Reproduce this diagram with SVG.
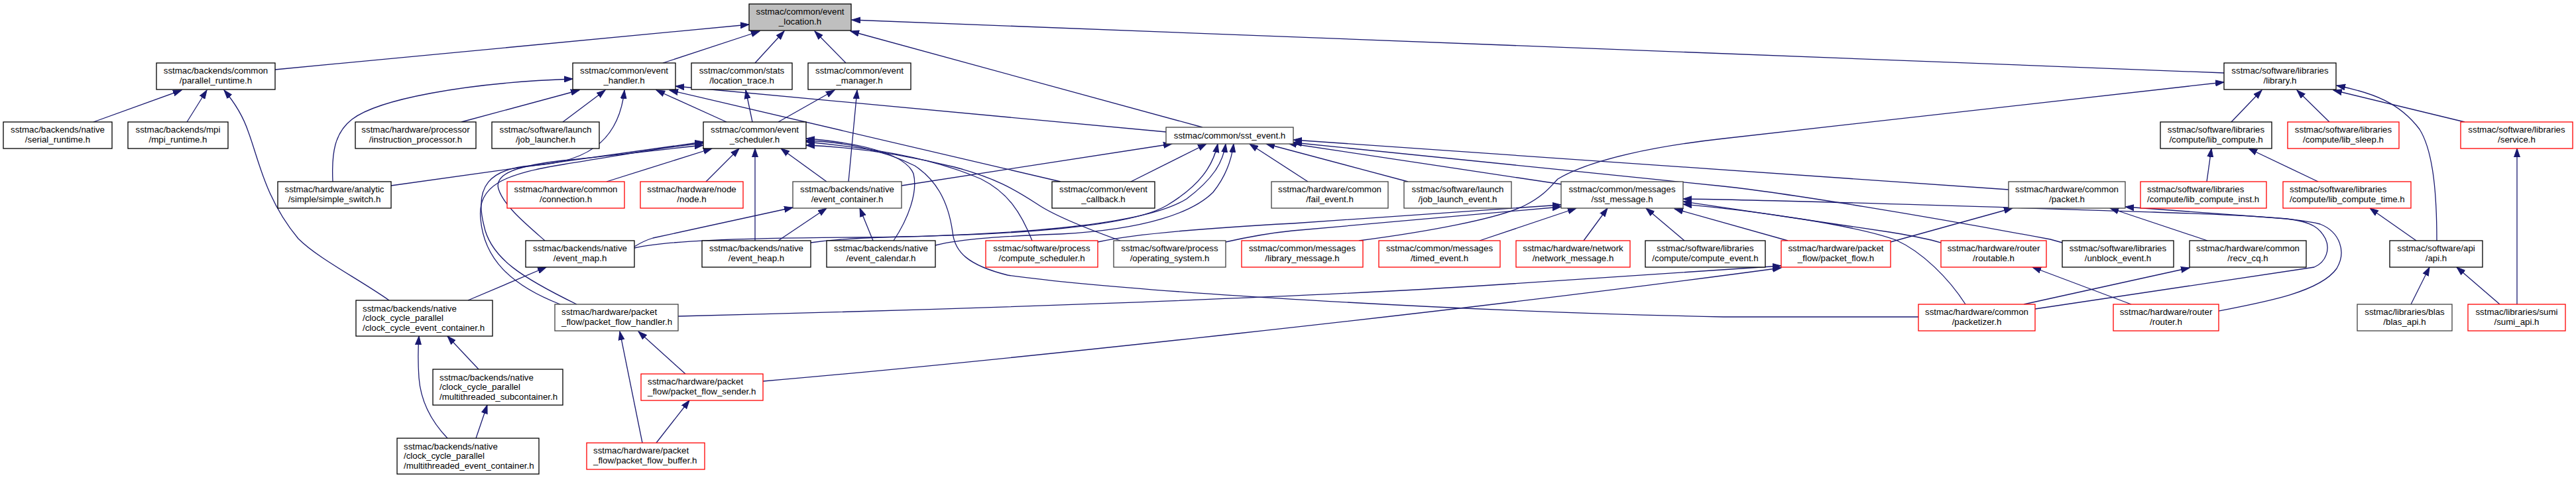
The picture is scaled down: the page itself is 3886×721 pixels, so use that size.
<svg xmlns="http://www.w3.org/2000/svg" width="3886" height="721" viewBox="0 0 3886 721">
<defs>
<marker id="a" markerWidth="14" markerHeight="10" refX="13" refY="5" orient="auto" markerUnits="userSpaceOnUse"><path d="M0,0.5 L13,5 L0,9.5 z" fill="#191970" stroke="#191970" stroke-width="1"/></marker>
</defs>
<style>
.n rect{fill:#fff;stroke:#000;stroke-width:1.3}
.n.r rect{stroke:#ff0000}
.n.g rect{stroke:#404040}
.n.s rect{fill:#bfbfbf}
text{font-family:"Liberation Sans",Arial,sans-serif;font-size:13.3px;fill:#000}
.n text{text-anchor:middle}
.n.l text{text-anchor:start}
#edges path{fill:none;stroke:#191970;stroke-width:1.3;marker-end:url(#a)}
</style>
<rect width="3886" height="721" fill="#fff"/>
<g id="edges">
<path d="M415,105 L1130,37"/>
<path d="M1000,95 L1146,47"/>
<path d="M1139,95 L1183,47"/>
<path d="M1276,95 L1229,47"/>
<path d="M1814,192 L1283,47"/>
<path d="M3355,110 L1285,30"/>
<path d="M141,184 L274,136"/>
<path d="M282,184 L312,136"/>
<path d="M587,453 C540,420 480,390 450,360 C400,300 390,240 375,200 C365,170 350,150 338,136"/>
<path d="M502,274 C500,230 505,200 531,180 C570,150 700,125 864,119"/>
<path d="M696,184 L874,136"/>
<path d="M849,184 L913,136"/>
<path d="M1096,184 L990,136"/>
<path d="M870,459 C790,420 740,390 730,340 C715,280 740,255 800,250 C900,245 935,200 942,136"/>
<path d="M1759,199 L1019,130"/>
<path d="M1600,274 L1010,136"/>
<path d="M1135,184 L1125,136"/>
<path d="M1174,184 L1259,136"/>
<path d="M1280,274 L1293,136"/>
<path d="M3366,184 L3412,136"/>
<path d="M3514,184 L3465,136"/>
<path d="M3718,184 L3520,136"/>
<path d="M3676,363 C3676,300 3672,230 3650,195 C3620,155 3580,140 3525,129"/>
<path d="M3329,274 L3336,224"/>
<path d="M3497,274 L3392,224"/>
<path d="M3645,363 L3575,314"/>
<path d="M3797,459 L3797,224"/>
<path d="M3771,459 L3706,403"/>
<path d="M3637,459 L3665,403"/>
<path d="M915,274 L1074,224"/>
<path d="M1065,274 L1115,224"/>
<path d="M1139,363 L1139,224"/>
<path d="M1247,274 L1178,224"/>
<path d="M590,280 L1061,214"/>
<path d="M822,363 C790,335 760,310 752,285 C745,262 780,250 850,242 C950,232 1010,224 1061,219"/>
<path d="M1348,363 C1370,330 1385,290 1378,262 C1365,230 1290,215 1216,209"/>
<path d="M1557,363 C1540,320 1520,290 1480,270 C1400,235 1300,222 1216,214"/>
<path d="M1690,363 C1640,345 1590,325 1565,308 C1530,285 1500,268 1440,252 C1360,232 1290,222 1216,219"/>
<path d="M2894,478 L2600,478 C2200,470 1700,440 1520,415 C1460,400 1440,380 1437,350 C1430,300 1410,270 1380,250 C1330,225 1270,214 1216,212"/>
<path d="M957,372 C965,367 975,362 985,359 L1196,313"/>
<path d="M1174,363 L1247,314"/>
<path d="M1317,363 L1297,314"/>
<path d="M1360,280 L1768,217"/>
<path d="M1706,274 L1820,217"/>
<path d="M957,374 C1000,364 1100,359 1300,358 C1500,356 1700,345 1760,310 C1810,280 1830,250 1837,217"/>
<path d="M1223,366 C1260,361 1290,359 1330,358 C1500,354 1720,344 1790,300 C1830,270 1845,245 1849,217"/>
<path d="M1411,370 C1450,360 1520,356 1600,353 C1730,346 1800,320 1830,290 C1850,265 1858,240 1861,217"/>
<path d="M1973,274 L1885,217"/>
<path d="M2124,274 L1910,217"/>
<path d="M2356,278 L1943,216"/>
<path d="M3030,286 L1951,211"/>
<path d="M3111,366 L3093,361 C2900,325 2700,292 2600,281 L1951,215"/>
<path d="M1656,365 C1700,355 1800,345 1950,337 L2355,309"/>
<path d="M1849,365 C1880,358 1910,352 1950,348 L2355,312"/>
<path d="M2050,363 C2150,350 2260,330 2300,310 C2330,295 2340,280 2350,270 C2400,240 2500,220 2600,209 L3355,124"/>
<path d="M2232,363 L2378,314"/>
<path d="M2389,363 L2425,314"/>
<path d="M2541,363 L2483,314"/>
<path d="M2697,363 L2526,315"/>
<path d="M2928,366 C2900,358 2880,355 2850,350 L2539,304"/>
<path d="M2965,459 C2940,420 2900,380 2860,362 C2800,340 2650,318 2539,308"/>
<path d="M2852,365 L3036,314"/>
<path d="M3330,363 L3183,314"/>
<path d="M3053,459 L3303,404"/>
<path d="M3215,459 L3066,403"/>
<path d="M3070,466 L3491,403 C3510,395 3515,375 3508,360 C3500,345 3490,335 3450,330 C3350,322 3250,316 3206,312"/>
<path d="M3347,469 C3420,455 3500,440 3525,405 C3540,380 3530,350 3500,338 C3450,325 3300,322 3250,320 C3000,312 2700,302 2539,300"/>
<path d="M1023,477 C1400,468 1950,450 2250,430 C2450,416 2600,408 2687,401"/>
<path d="M1151,575 C1500,545 2200,470 2687,404"/>
<path d="M1034,564 L963,500"/>
<path d="M969,668 L935,500"/>
<path d="M990,668 L1040,604"/>
<path d="M706,453 L824,403"/>
<path d="M722,557 L675,507"/>
<path d="M718,661 L735,611"/>
<path d="M675,661 C655,640 635,610 632,570 C630,540 631,520 632,507"/>
<path d="M845,459 C770,430 730,390 725,330 C720,280 760,262 850,248 C950,232 1000,222 1061,216"/>
</g>
<g id="node-event_location" class="n s"><rect x="1130" y="6" width="154" height="40"/><text x="1207" y="22">sstmac/common/event</text><text x="1207" y="36.5">_location.h</text></g>
<g id="node-parallel_runtime" class="n"><rect x="236" y="95" width="179" height="40"/><text x="325.5" y="111">sstmac/backends/common</text><text x="325.5" y="125.5">/parallel_runtime.h</text></g>
<g id="node-event_handler" class="n"><rect x="864" y="95" width="155" height="40"/><text x="941.5" y="111">sstmac/common/event</text><text x="941.5" y="125.5">_handler.h</text></g>
<g id="node-location_trace" class="n"><rect x="1043" y="95" width="152" height="40"/><text x="1119" y="111">sstmac/common/stats</text><text x="1119" y="125.5">/location_trace.h</text></g>
<g id="node-event_manager" class="n"><rect x="1219" y="95" width="155" height="40"/><text x="1296.5" y="111">sstmac/common/event</text><text x="1296.5" y="125.5">_manager.h</text></g>
<g id="node-library" class="n"><rect x="3355" y="95" width="169" height="40"/><text x="3439.5" y="111">sstmac/software/libraries</text><text x="3439.5" y="125.5">/library.h</text></g>
<g id="node-serial_runtime" class="n"><rect x="5" y="184" width="164" height="40"/><text x="87" y="200">sstmac/backends/native</text><text x="87" y="214.5">/serial_runtime.h</text></g>
<g id="node-mpi_runtime" class="n"><rect x="193" y="184" width="151" height="40"/><text x="268.5" y="200">sstmac/backends/mpi</text><text x="268.5" y="214.5">/mpi_runtime.h</text></g>
<g id="node-instruction_processor" class="n"><rect x="536" y="184" width="182" height="40"/><text x="627" y="200">sstmac/hardware/processor</text><text x="627" y="214.5">/instruction_processor.h</text></g>
<g id="node-job_launcher" class="n"><rect x="742" y="184" width="162" height="40"/><text x="823" y="200">sstmac/software/launch</text><text x="823" y="214.5">/job_launcher.h</text></g>
<g id="node-event_scheduler" class="n"><rect x="1061" y="184" width="155" height="40"/><text x="1138.5" y="200">sstmac/common/event</text><text x="1138.5" y="214.5">_scheduler.h</text></g>
<g id="node-sst_event" class="n g"><rect x="1759" y="192" width="192" height="25"/><text x="1855" y="209">sstmac/common/sst_event.h</text></g>
<g id="node-lib_compute" class="n"><rect x="3259" y="184" width="168" height="40"/><text x="3343" y="200">sstmac/software/libraries</text><text x="3343" y="214.5">/compute/lib_compute.h</text></g>
<g id="node-lib_sleep" class="n r"><rect x="3451" y="184" width="168" height="40"/><text x="3535" y="200">sstmac/software/libraries</text><text x="3535" y="214.5">/compute/lib_sleep.h</text></g>
<g id="node-service" class="n r"><rect x="3712" y="184" width="169" height="40"/><text x="3796.5" y="200">sstmac/software/libraries</text><text x="3796.5" y="214.5">/service.h</text></g>
<g id="node-simple_switch" class="n"><rect x="419" y="274" width="171" height="40"/><text x="504.5" y="290">sstmac/hardware/analytic</text><text x="504.5" y="304.5">/simple/simple_switch.h</text></g>
<g id="node-connection" class="n r"><rect x="765" y="274" width="177" height="40"/><text x="853.5" y="290">sstmac/hardware/common</text><text x="853.5" y="304.5">/connection.h</text></g>
<g id="node-node" class="n r"><rect x="966" y="274" width="155" height="40"/><text x="1043.5" y="290">sstmac/hardware/node</text><text x="1043.5" y="304.5">/node.h</text></g>
<g id="node-event_container" class="n g"><rect x="1196" y="274" width="164" height="40"/><text x="1278" y="290">sstmac/backends/native</text><text x="1278" y="304.5">/event_container.h</text></g>
<g id="node-event_callback" class="n"><rect x="1587" y="274" width="155" height="40"/><text x="1664.5" y="290">sstmac/common/event</text><text x="1664.5" y="304.5">_callback.h</text></g>
<g id="node-fail_event" class="n g"><rect x="1918" y="274" width="176" height="40"/><text x="2006" y="290">sstmac/hardware/common</text><text x="2006" y="304.5">/fail_event.h</text></g>
<g id="node-job_launch_event" class="n g"><rect x="2118" y="274" width="162" height="40"/><text x="2199" y="290">sstmac/software/launch</text><text x="2199" y="304.5">/job_launch_event.h</text></g>
<g id="node-sst_message" class="n g"><rect x="2355" y="274" width="184" height="40"/><text x="2447" y="290">sstmac/common/messages</text><text x="2447" y="304.5">/sst_message.h</text></g>
<g id="node-packet" class="n g"><rect x="3030" y="274" width="176" height="40"/><text x="3118" y="290">sstmac/hardware/common</text><text x="3118" y="304.5">/packet.h</text></g>
<g id="node-lib_compute_inst" class="n r l"><rect x="3229" y="274" width="190" height="40"/><text x="3239" y="290">sstmac/software/libraries</text><text x="3239" y="304.5">/compute/lib_compute_inst.h</text></g>
<g id="node-lib_compute_time" class="n r l"><rect x="3444" y="274" width="193" height="40"/><text x="3454" y="290">sstmac/software/libraries</text><text x="3454" y="304.5">/compute/lib_compute_time.h</text></g>
<g id="node-event_map" class="n"><rect x="793" y="363" width="164" height="40"/><text x="875" y="379">sstmac/backends/native</text><text x="875" y="393.5">/event_map.h</text></g>
<g id="node-event_heap" class="n"><rect x="1059" y="363" width="164" height="40"/><text x="1141" y="379">sstmac/backends/native</text><text x="1141" y="393.5">/event_heap.h</text></g>
<g id="node-event_calendar" class="n"><rect x="1247" y="363" width="164" height="40"/><text x="1329" y="379">sstmac/backends/native</text><text x="1329" y="393.5">/event_calendar.h</text></g>
<g id="node-compute_scheduler" class="n r"><rect x="1487" y="363" width="169" height="40"/><text x="1571.5" y="379">sstmac/software/process</text><text x="1571.5" y="393.5">/compute_scheduler.h</text></g>
<g id="node-operating_system" class="n g"><rect x="1680" y="363" width="169" height="40"/><text x="1764.5" y="379">sstmac/software/process</text><text x="1764.5" y="393.5">/operating_system.h</text></g>
<g id="node-library_message" class="n r"><rect x="1873" y="363" width="183" height="40"/><text x="1964.5" y="379">sstmac/common/messages</text><text x="1964.5" y="393.5">/library_message.h</text></g>
<g id="node-timed_event" class="n r"><rect x="2080" y="363" width="183" height="40"/><text x="2171.5" y="379">sstmac/common/messages</text><text x="2171.5" y="393.5">/timed_event.h</text></g>
<g id="node-network_message" class="n r"><rect x="2287" y="363" width="172" height="40"/><text x="2373" y="379">sstmac/hardware/network</text><text x="2373" y="393.5">/network_message.h</text></g>
<g id="node-compute_event" class="n"><rect x="2482" y="363" width="181" height="40"/><text x="2572.5" y="379">sstmac/software/libraries</text><text x="2572.5" y="393.5">/compute/compute_event.h</text></g>
<g id="node-packet_flow" class="n r"><rect x="2687" y="363" width="165" height="40"/><text x="2769.5" y="379">sstmac/hardware/packet</text><text x="2769.5" y="393.5">_flow/packet_flow.h</text></g>
<g id="node-routable" class="n r"><rect x="2928" y="363" width="159" height="40"/><text x="3007.5" y="379">sstmac/hardware/router</text><text x="3007.5" y="393.5">/routable.h</text></g>
<g id="node-unblock_event" class="n"><rect x="3111" y="363" width="168" height="40"/><text x="3195" y="379">sstmac/software/libraries</text><text x="3195" y="393.5">/unblock_event.h</text></g>
<g id="node-recv_cq" class="n"><rect x="3303" y="363" width="176" height="40"/><text x="3391" y="379">sstmac/hardware/common</text><text x="3391" y="393.5">/recv_cq.h</text></g>
<g id="node-api" class="n"><rect x="3605" y="363" width="140" height="40"/><text x="3675" y="379">sstmac/software/api</text><text x="3675" y="393.5">/api.h</text></g>
<g id="node-clock_cycle_event_container" class="n l"><rect x="537" y="453" width="206" height="54"/><text x="547" y="469.5">sstmac/backends/native</text><text x="547" y="484">/clock_cycle_parallel</text><text x="547" y="498.5">/clock_cycle_event_container.h</text></g>
<g id="node-packet_flow_handler" class="n g l"><rect x="837" y="459" width="186" height="40"/><text x="847" y="475">sstmac/hardware/packet</text><text x="847" y="489.5">_flow/packet_flow_handler.h</text></g>
<g id="node-packetizer" class="n r"><rect x="2894" y="459" width="176" height="40"/><text x="2982" y="475">sstmac/hardware/common</text><text x="2982" y="489.5">/packetizer.h</text></g>
<g id="node-router" class="n r"><rect x="3188" y="459" width="159" height="40"/><text x="3267.5" y="475">sstmac/hardware/router</text><text x="3267.5" y="489.5">/router.h</text></g>
<g id="node-blas_api" class="n g"><rect x="3556" y="459" width="143" height="40"/><text x="3627.5" y="475">sstmac/libraries/blas</text><text x="3627.5" y="489.5">/blas_api.h</text></g>
<g id="node-sumi_api" class="n r"><rect x="3723" y="459" width="147" height="40"/><text x="3796.5" y="475">sstmac/libraries/sumi</text><text x="3796.5" y="489.5">/sumi_api.h</text></g>
<g id="node-multithreaded_subcontainer" class="n l"><rect x="653" y="557" width="196" height="54"/><text x="663" y="573.5">sstmac/backends/native</text><text x="663" y="588">/clock_cycle_parallel</text><text x="663" y="602.5">/multithreaded_subcontainer.h</text></g>
<g id="node-packet_flow_sender" class="n r l"><rect x="967" y="564" width="184" height="40"/><text x="977" y="580">sstmac/hardware/packet</text><text x="977" y="594.5">_flow/packet_flow_sender.h</text></g>
<g id="node-multithreaded_event_container" class="n l"><rect x="599" y="661" width="214" height="54"/><text x="609" y="677.5">sstmac/backends/native</text><text x="609" y="692">/clock_cycle_parallel</text><text x="609" y="706.5">/multithreaded_event_container.h</text></g>
<g id="node-packet_flow_buffer" class="n r l"><rect x="885" y="668" width="178" height="40"/><text x="895" y="684">sstmac/hardware/packet</text><text x="895" y="698.5">_flow/packet_flow_buffer.h</text></g>
</svg>
